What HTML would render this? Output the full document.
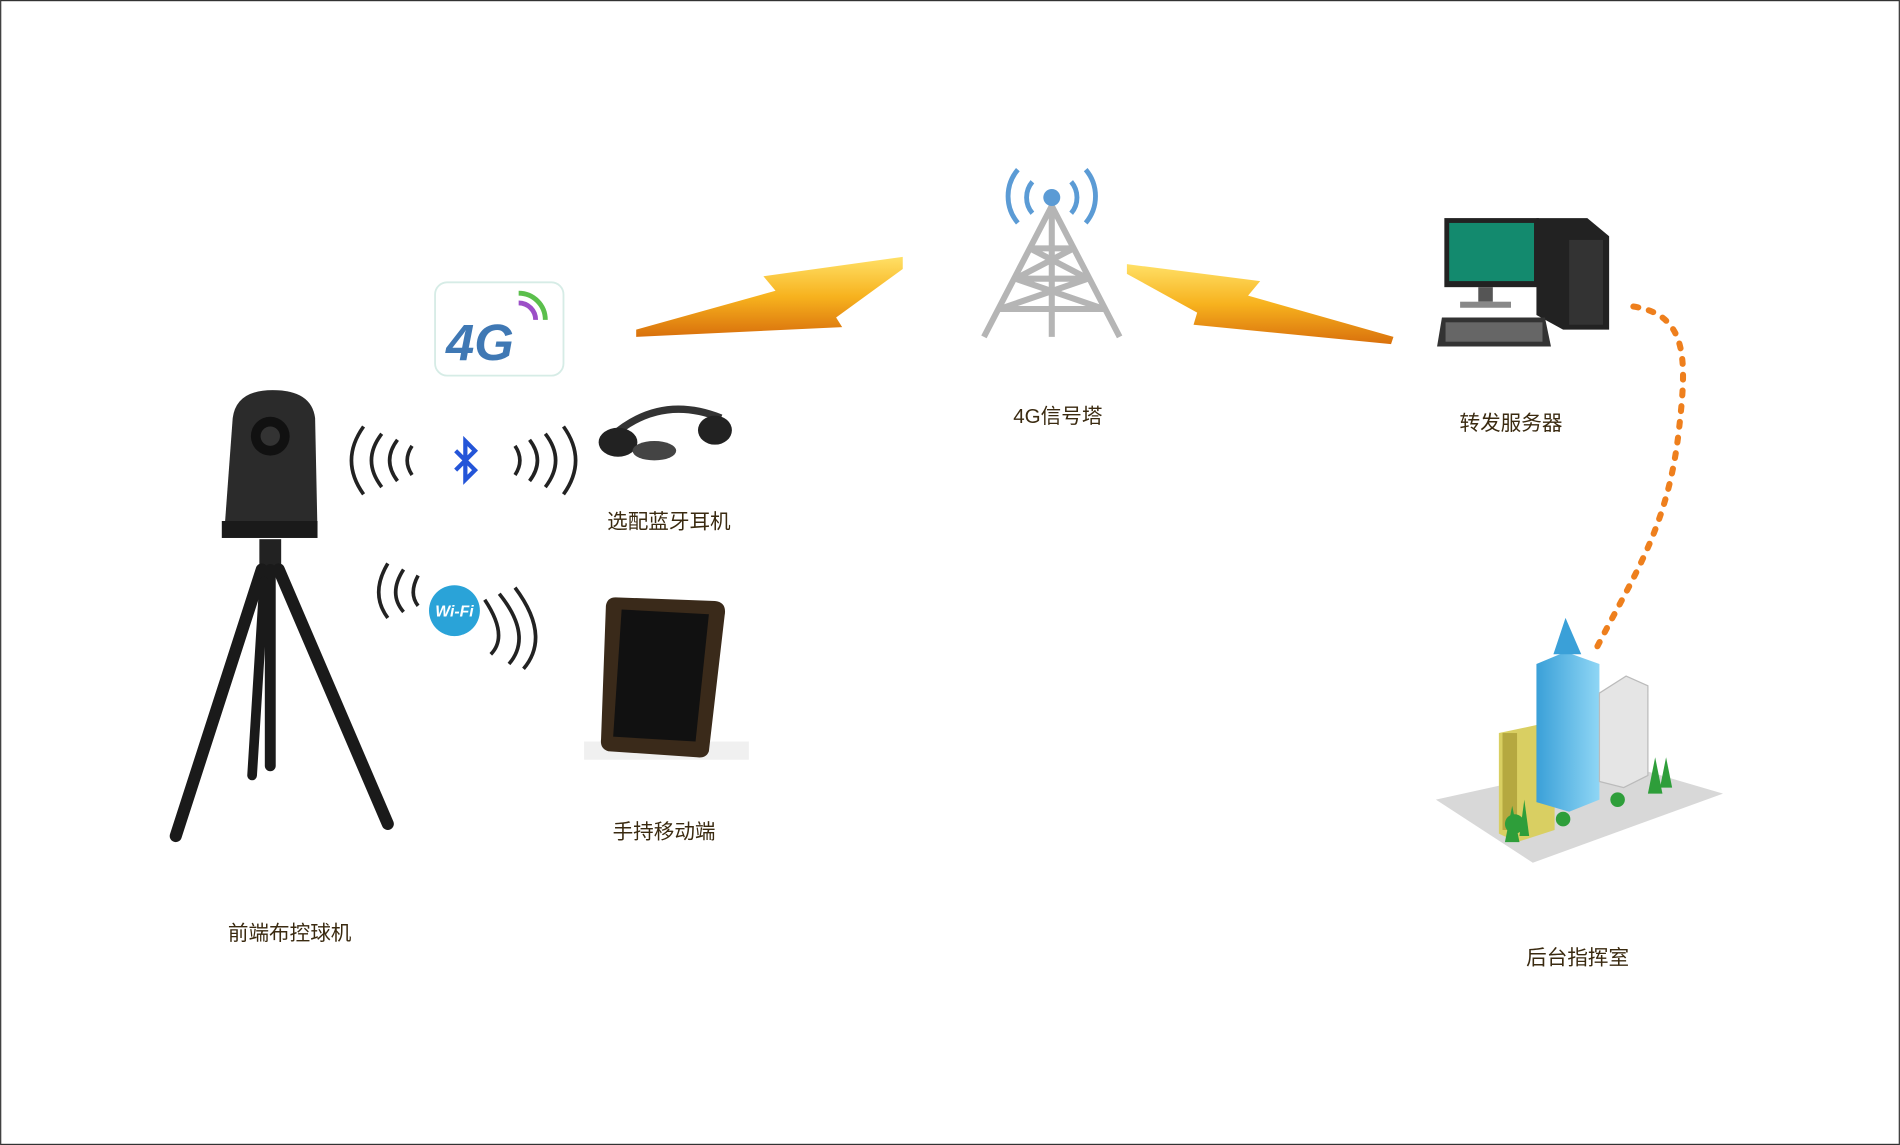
<!DOCTYPE html>
<html><head><meta charset="utf-8"><style>
html,body{margin:0;padding:0;background:#fff;}
svg{display:block;}
text{font-family:"Liberation Sans","Noto Sans CJK SC",sans-serif;}
</style></head><body>
<svg width="1900" height="1145" viewBox="0 0 1568 945" xmlns="http://www.w3.org/2000/svg">
<defs>
<linearGradient id="bolt" x1="0" y1="0" x2="0" y2="1">
<stop offset="0" stop-color="#ffe066"/><stop offset="0.5" stop-color="#f7b21e"/><stop offset="1" stop-color="#d9700c"/></linearGradient>
<linearGradient id="bl" x1="0" y1="0" x2="1" y2="0"><stop offset="0" stop-color="#3aa0d8"/><stop offset="1" stop-color="#8fd6f5"/></linearGradient>
</defs>
<rect x="0.5" y="0.5" width="1567" height="944" fill="#fff" stroke="#333" stroke-width="1"/>

<!-- 4G icon -->
<rect x="359" y="233" width="106" height="77" rx="10" fill="#fff" stroke="#d6ece6" stroke-width="1.5"/>
<text x="368" y="297" font-size="42" font-weight="bold" font-style="italic" fill="#3f78b4">4G</text>
<path d="M428 250 a14 14 0 0 1 14 14" stroke="#9c4fc7" stroke-width="4" fill="none"/>
<path d="M428 242 a22 22 0 0 1 22 22" stroke="#5bbf4c" stroke-width="4" fill="none"/>

<!-- bolts -->
<polygon points="525,272 640,240 630,228 745,212 745,222 690,262 695,270 525,278" fill="url(#bolt)"/>
<polygon points="930,218 1040,232 1030,244 1150,278 1148,284 985,268 988,258 930,226" fill="url(#bolt)"/>

<!-- tower -->
<g stroke="#b5b5b5" stroke-width="5" fill="none">
<path d="M868 170 L812 278 M868 170 L924 278 M868 170 L868 278"/>
<path d="M850 205 L886 205 M838 230 L898 230 M825 255 L911 255 M850 205 L898 230 M886 205 L838 230 M838 230 L911 255 M898 230 L825 255"/>
</g>
<circle cx="868" cy="163" r="7" fill="#5b9bd5"/>
<g stroke="#5b9bd5" stroke-width="4" fill="none">
<path d="M852 150 a20 20 0 0 0 0 26"/><path d="M884 150 a20 20 0 0 1 0 26"/>
<path d="M840 140 a34 34 0 0 0 0 44"/><path d="M896 140 a34 34 0 0 1 0 44"/>
</g>

<!-- computer -->
<rect x="1192" y="180" width="78" height="57" fill="#222"/>
<rect x="1196" y="184" width="70" height="48" fill="#138a6e"/>
<rect x="1220" y="237" width="12" height="12" fill="#555"/>
<rect x="1205" y="249" width="42" height="5" fill="#888"/>
<polygon points="1268,180 1310,180 1328,195 1328,272 1290,272 1268,260" fill="#222"/>
<rect x="1295" y="198" width="28" height="70" fill="#333"/>
<polygon points="1190,262 1275,262 1280,286 1186,286" fill="#333"/>
<rect x="1193" y="266" width="80" height="16" fill="#666"/>

<!-- dotted line -->
<path d="M1348 253 C1395 260 1392 300 1385 360 C1375 440 1345 480 1315 540" stroke="#ee7f1d" stroke-width="5" stroke-dasharray="4 9" fill="none" stroke-linecap="round"/>

<!-- buildings -->
<polygon points="1185,660 1330,628 1422,655 1265,712" fill="#d8d8d8"/>
<polygon points="1237,605 1270,598 1283,604 1283,685 1252,695 1237,688" fill="#d9cf62"/>
<rect x="1240" y="605" width="12" height="80" fill="#b5a840"/>
<polygon points="1268,548 1292,538 1320,548 1320,660 1295,670 1268,662" fill="url(#bl)"/>
<polygon points="1282,540 1292,510 1305,540" fill="#3aa0d8"/>
<polygon points="1320,572 1342,558 1360,566 1360,640 1340,650 1320,645" fill="#e5e5e5" stroke="#bbb"/>
<g fill="#2e9e3a">
<circle cx="1250" cy="680" r="8"/><circle cx="1290" cy="676" r="6"/><circle cx="1335" cy="660" r="6"/>
<polygon points="1360,655 1366,625 1372,655"/><polygon points="1370,650 1375,625 1380,650"/>
<polygon points="1242,695 1248,665 1254,695"/><polygon points="1254,690 1258,660 1262,690"/>
</g>

<!-- camera -->
<path d="M192 345 Q195 322 225 322 Q257 322 260 345 L262 440 L185 440 Z" fill="#2b2b2b"/>
<rect x="183" y="430" width="79" height="14" fill="#1a1a1a"/>
<circle cx="223" cy="360" r="16" fill="#111"/><circle cx="223" cy="360" r="8" fill="#333"/>
<rect x="214" y="445" width="18" height="30" fill="#222"/>
<g stroke="#1a1a1a" stroke-linecap="round" fill="none">
<path d="M216 470 L145 690" stroke-width="10"/>
<path d="M230 470 L320 680" stroke-width="10"/>
<path d="M223 470 L223 632" stroke-width="9"/>
<path d="M218 480 L208 640" stroke-width="8"/>
</g>

<!-- bluetooth waves -->
<g stroke="#222" stroke-width="3" fill="none">
<path d="M300 352 Q280 380 300 408"/><path d="M315 358 Q298 380 315 402"/><path d="M328 363 Q315 380 328 397"/><path d="M340 368 Q332 380 340 392"/>
<path d="M465 352 Q485 380 465 408"/><path d="M450 358 Q467 380 450 402"/><path d="M437 363 Q450 380 437 397"/><path d="M425 368 Q433 380 425 392"/>
</g>
<path d="M376 372 L392 388 L384 396 L384 364 L392 372 L376 388" stroke="#2455d8" stroke-width="3.5" fill="none"/>

<!-- headphones -->
<path d="M505 360 Q545 325 595 345" stroke="#333" stroke-width="6" fill="none"/>
<ellipse cx="510" cy="365" rx="16" ry="12" fill="#222"/>
<ellipse cx="590" cy="355" rx="14" ry="12" fill="#222"/>
<ellipse cx="540" cy="372" rx="18" ry="8" fill="#444"/>

<!-- wifi -->
<g stroke="#222" stroke-width="3" fill="none">
<path d="M320 465 Q305 490 320 510"/><path d="M333 470 Q320 490 333 505"/><path d="M345 475 Q337 490 345 500"/>
<path d="M400 495 Q420 525 405 540"/><path d="M412 490 Q440 525 420 548"/><path d="M425 485 Q455 525 432 552"/>
</g>
<circle cx="375" cy="504" r="21" fill="#2aa3d8"/>
<text x="375" y="509" font-size="13" font-weight="bold" font-style="italic" fill="#fff" text-anchor="middle">Wi-Fi</text>

<!-- tablet -->
<rect x="482" y="612" width="136" height="15" fill="#f0f0f0"/>
<path d="M508 493 L590 496 Q600 497 598 508 L585 620 Q583 626 575 625 L502 620 Q495 618 496 610 L500 500 Q501 493 508 493 Z" fill="#3a2a1a"/>
<path d="M513 503 L585 507 L574 612 L506 608 Z" fill="#111"/>

<!-- labels -->
<g font-size="17" fill="#3a2a10" text-anchor="middle">
<text x="873" y="349">4G信号塔</text>
<text x="1247" y="355">转发服务器</text>
<text x="552" y="436">选配蓝牙耳机</text>
<text x="548" y="692">手持移动端</text>
<text x="239" y="776">前端布控球机</text>
<text x="1302" y="796">后台指挥室</text>
</g>
</svg>
</body></html>
